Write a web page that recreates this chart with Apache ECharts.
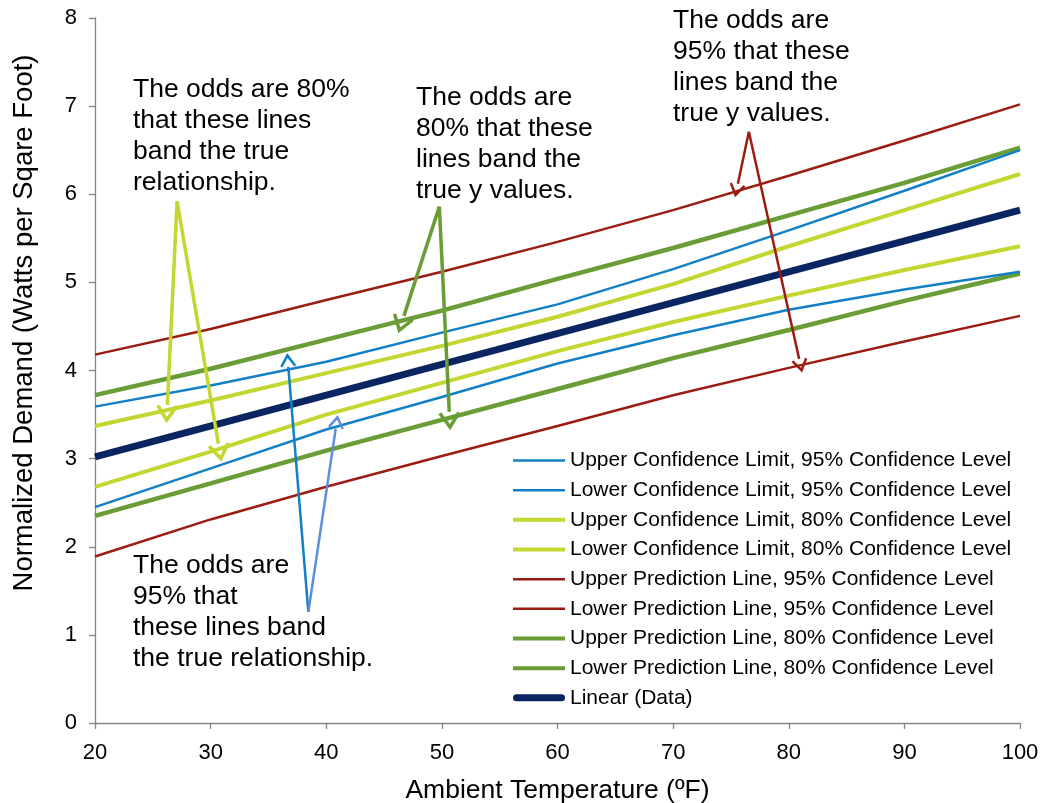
<!DOCTYPE html>
<html>
<head>
<meta charset="utf-8">
<script src="https://cdn.jsdelivr.net/npm/echarts@6/dist/echarts.min.js"></script>
<style>
html,body{margin:0;padding:0;background:#fff;}
#chart{width:1044px;height:803px;}
</style>
</head>
<body>
<div id="chart"></div>
<script>
// ---- data ----
var xs = [20, 30, 40, 50, 60, 70, 80, 90, 100];
var upperConf95 = [3.59, 3.83, 4.10, 4.43, 4.75, 5.15, 5.59, 6.04, 6.50];
var lowerConf95 = [2.45, 2.89, 3.33, 3.70, 4.08, 4.40, 4.69, 4.92, 5.12];
var upperConf80 = [3.37, 3.66, 3.97, 4.28, 4.61, 4.98, 5.41, 5.82, 6.23];
var lowerConf80 = [2.68, 3.08, 3.50, 3.86, 4.22, 4.55, 4.85, 5.14, 5.41];
var upperPred95 = [4.18, 4.47, 4.80, 5.12, 5.46, 5.82, 6.21, 6.61, 7.02];
var lowerPred95 = [1.89, 2.31, 2.68, 3.03, 3.37, 3.72, 4.03, 4.33, 4.62];
var upperPred80 = [3.72, 4.02, 4.35, 4.68, 5.04, 5.39, 5.76, 6.13, 6.53];
var lowerPred80 = [2.35, 2.72, 3.09, 3.44, 3.79, 4.14, 4.46, 4.79, 5.10];
var linearX = [20, 100];
var linearY = [3.02, 5.82];

var seriesNames = [
  'Upper Confidence Limit, 95% Confidence Level',
  'Lower Confidence Limit, 95% Confidence Level',
  'Upper Confidence Limit, 80% Confidence Level',
  'Lower Confidence Limit, 80% Confidence Level',
  'Upper Prediction Line, 95% Confidence Level',
  'Lower Prediction Line, 95% Confidence Level',
  'Upper Prediction Line, 80% Confidence Level',
  'Lower Prediction Line, 80% Confidence Level',
  'Linear (Data)'
];

// annotation arrows in data units: [fromX, fromY, toX, toY]
var arrowsConf80 = [[27.1, 5.92, 26.26, 3.61], [27.1, 5.92, 30.67, 3.17]];
var arrowsPred80 = [[49.78, 5.86, 46.72, 4.62], [49.78, 5.86, 50.64, 3.53]];
var arrowsConf95 = [[38.45, 1.26, 36.72, 4.04], [38.45, 1.26, 40.82, 3.34]];
var arrowsPred95 = [[76.55, 6.71, 75.6, 6.12], [76.55, 6.71, 80.9, 4.13]];

var annotations = [
  'The odds are 80%\nthat these lines\nband the true\nrelationship.',
  'The odds are\n80% that these\nlines band the\ntrue y values.',
  'The odds are\n95% that these\nlines band the\ntrue y values.',
  'The odds are\n95% that\nthese lines band\nthe true relationship.'
];
var xTitle = 'Ambient Temperature (\u00BAF)';
var yTitle = 'Normalized Demand (Watts per Sqare Foot)';

// ---- styles ----
var FONT = 'Liberation Sans, Arial, sans-serif';
var C_BLUE = '#1380c6', C_YG = '#c4d631', C_RED = '#9b1c10', C_GREEN = '#6a9d35', C_NAVY = '#0b2562', C_LBLUE = '#5c8ed9';

function pairs(xv, yv) { return xv.map(function (x, i) { return [x, yv[i]]; }); }
function mk(name, xv, yv, color, width, z) {
  return {
    name: name, type: 'line', data: pairs(xv, yv), symbol: 'none', showSymbol: false,
    lineStyle: { color: color, width: width }, itemStyle: { color: color },
    z: z, silent: true, animation: false
  };
}
var chevronBig = 'path://M0,0L11,16.5L8.1,18.4L0,6.4L-8.1,18.4L-11,16.5ZM0,36.8L0.05,36.8L0,36.85Z';
var chevronSmall = 'path://M0,0L8,12.5L6,13.9L0,4.8L-6,13.9L-8,12.5ZM0,27.8L0.05,27.8L0,27.85Z';
function arrowItems(list, colors, width, sym, size) {
  return list.map(function (a, i) {
    var c = colors[i % colors.length];
    return [
      { coord: [a[0], a[1]], lineStyle: { color: c, width: width }, itemStyle: { color: c } },
      { coord: [a[2], a[3]], symbol: sym, symbolSize: size }
    ];
  });
}
var arrowData = []
  .concat(arrowItems(arrowsConf80, [C_YG], 3.5, chevronBig, [22, 36.8]))
  .concat(arrowItems(arrowsPred80, [C_GREEN], 3.5, chevronBig, [22, 36.8]))
  .concat(arrowItems(arrowsConf95, [C_BLUE, C_LBLUE], 2.5, chevronSmall, [16, 27.8]))
  .concat(arrowItems(arrowsPred95, [C_RED], 2.5, chevronSmall, [16, 27.8]));

var series = [
  mk(seriesNames[0], xs, upperConf95, C_BLUE, 2.5, 3),
  mk(seriesNames[1], xs, lowerConf95, C_BLUE, 2.5, 3),
  mk(seriesNames[2], xs, upperConf80, C_YG, 4, 2),
  mk(seriesNames[3], xs, lowerConf80, C_YG, 4, 2),
  mk(seriesNames[4], xs, upperPred95, C_RED, 2.5, 2),
  mk(seriesNames[5], xs, lowerPred95, C_RED, 2.5, 2),
  mk(seriesNames[6], xs, upperPred80, C_GREEN, 4.5, 2),
  mk(seriesNames[7], xs, lowerPred80, C_GREEN, 4.5, 2),
  mk(seriesNames[8], linearX, linearY, C_NAVY, 7, 4),
  {
    name: 'arrows', type: 'line', data: pairs(linearX, linearY), symbol: 'none',
    lineStyle: { opacity: 0, width: 0 }, z: 10, silent: true, animation: false,
    markLine: {
      silent: true, animation: false, symbol: ['none', chevronSmall], symbolSize: [16, 27.8],
      label: { show: false }, emphasis: { disabled: true },
      lineStyle: { type: 'solid' },
      data: arrowData
    }
  }
];

function bar(h) { return 'path://M0,0h52v' + h + 'h-52z'; }
var roundBar = 'path://M3.5,0h45a3.5,3.5 0 0 1 0,7h-45a3.5,3.5 0 0 1 0,-7z';
var legendIcons = [bar(2.5), bar(2.5), bar(4), bar(4), bar(2.5), bar(2.5), bar(4), bar(4), roundBar];
var legendData = seriesNames.map(function (n, i) { return { name: n, icon: legendIcons[i] }; });

var textPos = [[133, 74], [416, 82], [673, 5], [133, 550]];
var graphics = annotations.map(function (t, i) {
  return {
    type: 'text', left: textPos[i][0], top: textPos[i][1], silent: true,
    style: { text: t, font: '26.5px ' + FONT, fill: '#000', lineHeight: 31 }
  };
});
graphics.push({
  type: 'text', x: 24, y: 323, rotation: Math.PI / 2, silent: true,
  style: { text: yTitle, font: '27.5px ' + FONT, fill: '#000', align: 'center', verticalAlign: 'middle' }
});

var chart = echarts.init(document.getElementById('chart'), null, { renderer: 'canvas' });
chart.setOption({
  animation: false,
  backgroundColor: '#fff',
  grid: { left: 95, right: 24, top: 18, bottom: 80, containLabel: false, outerBoundsMode: 'none' },
  xAxis: {
    type: 'value', min: 20, max: 100, interval: 10,
    name: xTitle, nameLocation: 'middle', nameGap: 54,
    nameTextStyle: { fontFamily: FONT, fontSize: 26.5, color: '#000' },
    axisLine: { lineStyle: { color: '#868686', width: 1.3 } },
    axisTick: { show: true, inside: false, length: 6, lineStyle: { color: '#868686', width: 1.3 } },
    axisLabel: { fontFamily: FONT, fontSize: 22, color: '#000', margin: 19 },
    splitLine: { show: false }
  },
  yAxis: {
    type: 'value', min: 0, max: 8, interval: 1,
    axisLine: { show: true, lineStyle: { color: '#868686', width: 1.3 } },
    axisTick: { show: true, inside: false, length: 6, lineStyle: { color: '#868686', width: 1.3 } },
    axisLabel: { fontFamily: FONT, fontSize: 22, color: '#000', margin: 18 },
    splitLine: { show: false }
  },
  legend: {
    data: legendData, orient: 'vertical', left: 513, top: 450, padding: 0,
    itemWidth: 52, itemHeight: 20, itemGap: 8.67, selectedMode: false, symbolKeepAspect: true,
    textStyle: { fontFamily: FONT, fontSize: 21, color: '#000', lineHeight: 20 }
  },
  graphic: graphics,
  series: series
});
</script>
</body>
</html>
